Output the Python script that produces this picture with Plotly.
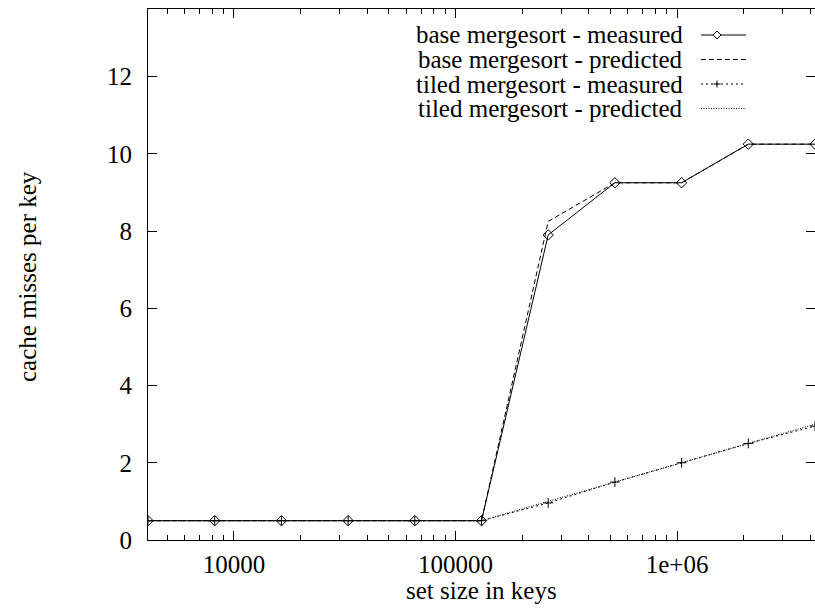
import plotly.graph_objects as go

# ---- data ----
set_size = [4096, 8192, 16384, 32768, 65536, 131072, 262144, 524288, 1048576, 2097152, 4194304]
base_measured = [0.5, 0.5, 0.5, 0.5, 0.5, 0.5, 7.9, 9.25, 9.25, 10.25, 10.25]
base_predicted = [0.5, 0.5, 0.5, 0.5, 0.5, 0.5, 8.25, 9.25, 9.25, 10.25, 10.25]
tiled_measured = [0.5, 0.5, 0.5, 0.5, 0.5, 0.5, 0.96, 1.5, 2.0, 2.5, 2.95]
tiled_predicted = [0.5, 0.5, 0.5, 0.5, 0.5, 0.5, 1.0, 1.5, 2.0, 2.5, 3.0]
series_names = ["base mergesort - measured", "base mergesort - predicted",
                "tiled mergesort - measured", "tiled mergesort - predicted"]
x_tickvals = [10000, 100000, 1000000]
x_ticktext = ["10000", "100000", "1e+06"]
y_tickvals = [0, 2, 4, 6, 8, 10, 12]

W, H = 815, 608
L, R, T, B = 148, 0, 9, 68
FONT = "Times New Roman, Liberation Serif, serif"
FS = 25

fig = go.Figure()
fig.add_trace(go.Scatter(x=set_size, y=tiled_predicted, mode="lines",
                         line=dict(color="black", width=1, dash="1px,1.5px"), name=series_names[3]))
fig.add_trace(go.Scatter(x=set_size, y=tiled_measured, mode="lines+markers",
                         line=dict(color="black", width=1, dash="2px,3px"),
                         marker=dict(symbol="cross-thin-open", size=7, line=dict(color="black", width=1)),
                         name=series_names[2]))
fig.add_trace(go.Scatter(x=set_size, y=base_predicted, mode="lines",
                         line=dict(color="black", width=1, dash="5px,3px"), name=series_names[1]))
fig.add_trace(go.Scatter(x=set_size, y=base_measured, mode="lines+markers",
                         line=dict(color="black", width=1),
                         marker=dict(symbol="diamond-open", size=8, color="black", line=dict(color="black", width=1)),
                         name=series_names[0]))

pw = W - L - R
ph = H - T - B
def px(xp):
    return (xp - L) / pw
def py(yp):
    return (H - B - yp) / ph

# manual gnuplot-style legend (text left, sample right)
rows_y = [35, 59.5, 84, 108.5]
dashes = ["solid", "5px,3px", "2px,3px", "1px,1.5px"]
annotations = []
shapes = []
for i, (name, yy) in enumerate(zip(series_names, rows_y)):
    annotations.append(dict(text=name, x=px(685), y=py(yy), xref="paper", yref="paper",
                            xanchor="right", yanchor="middle", showarrow=False,
                            font=dict(family=FONT, size=FS, color="black")))
    shapes.append(dict(type="line", xref="paper", yref="paper",
                       x0=px(701), x1=px(746), y0=py(yy), y1=py(yy),
                       line=dict(color="black", width=1, dash=dashes[i])))
# legend diamond marker
cx, cy = 717, rows_y[0]
shapes.append(dict(type="path", xref="paper", yref="paper",
                   path=f"M {px(cx-4)},{py(cy)} L {px(cx)},{py(cy-4)} L {px(cx+4)},{py(cy)} L {px(cx)},{py(cy+4)} Z",
                   fillcolor="white", line=dict(color="black", width=1)))
# legend plus marker
cx, cy = 717, rows_y[2]
shapes.append(dict(type="line", xref="paper", yref="paper", x0=px(cx-3.5), x1=px(cx+3.5), y0=py(cy), y1=py(cy),
                   line=dict(color="black", width=1)))
shapes.append(dict(type="line", xref="paper", yref="paper", x0=px(cx), x1=px(cx), y0=py(cy-3.5), y1=py(cy+3.5),
                   line=dict(color="black", width=1)))

# axis titles
annotations.append(dict(text="set size in keys", x=0.5, y=py(591), xref="paper", yref="paper",
                        xanchor="center", yanchor="middle", showarrow=False,
                        font=dict(family=FONT, size=FS, color="black")))
annotations.append(dict(text="cache misses per key", x=px(28), y=py(276), xref="paper", yref="paper",
                        xanchor="center", yanchor="middle", showarrow=False, textangle=-90,
                        font=dict(family=FONT, size=FS, color="black")))

fig.update_layout(
    width=W, height=H,
    margin=dict(l=L, r=R, t=T, b=B, pad=0),
    paper_bgcolor="white", plot_bgcolor="white",
    showlegend=False,
    font=dict(family=FONT, size=FS, color="black"),
    annotations=annotations, shapes=shapes,
    xaxis=dict(type="log", range=[3.61236, 6.62266],
               tickvals=x_tickvals, ticktext=x_ticktext,
               ticks="inside", ticklen=9, tickwidth=1, tickcolor="black",
               minor=dict(ticks="inside", ticklen=5, tickwidth=1, tickcolor="black", dtick="D1", showgrid=False),
               showline=True, linecolor="black", linewidth=1, mirror="allticks",
               showgrid=False, zeroline=False, ticklabelstandoff=2),
    yaxis=dict(range=[0, 13.75], tickvals=y_tickvals,
               ticks="inside", ticklen=9, tickwidth=1, tickcolor="black",
               showline=True, linecolor="black", linewidth=1, mirror="allticks",
               showgrid=False, zeroline=False, ticklabelstandoff=10),
)

fig.write_html("out.html")
